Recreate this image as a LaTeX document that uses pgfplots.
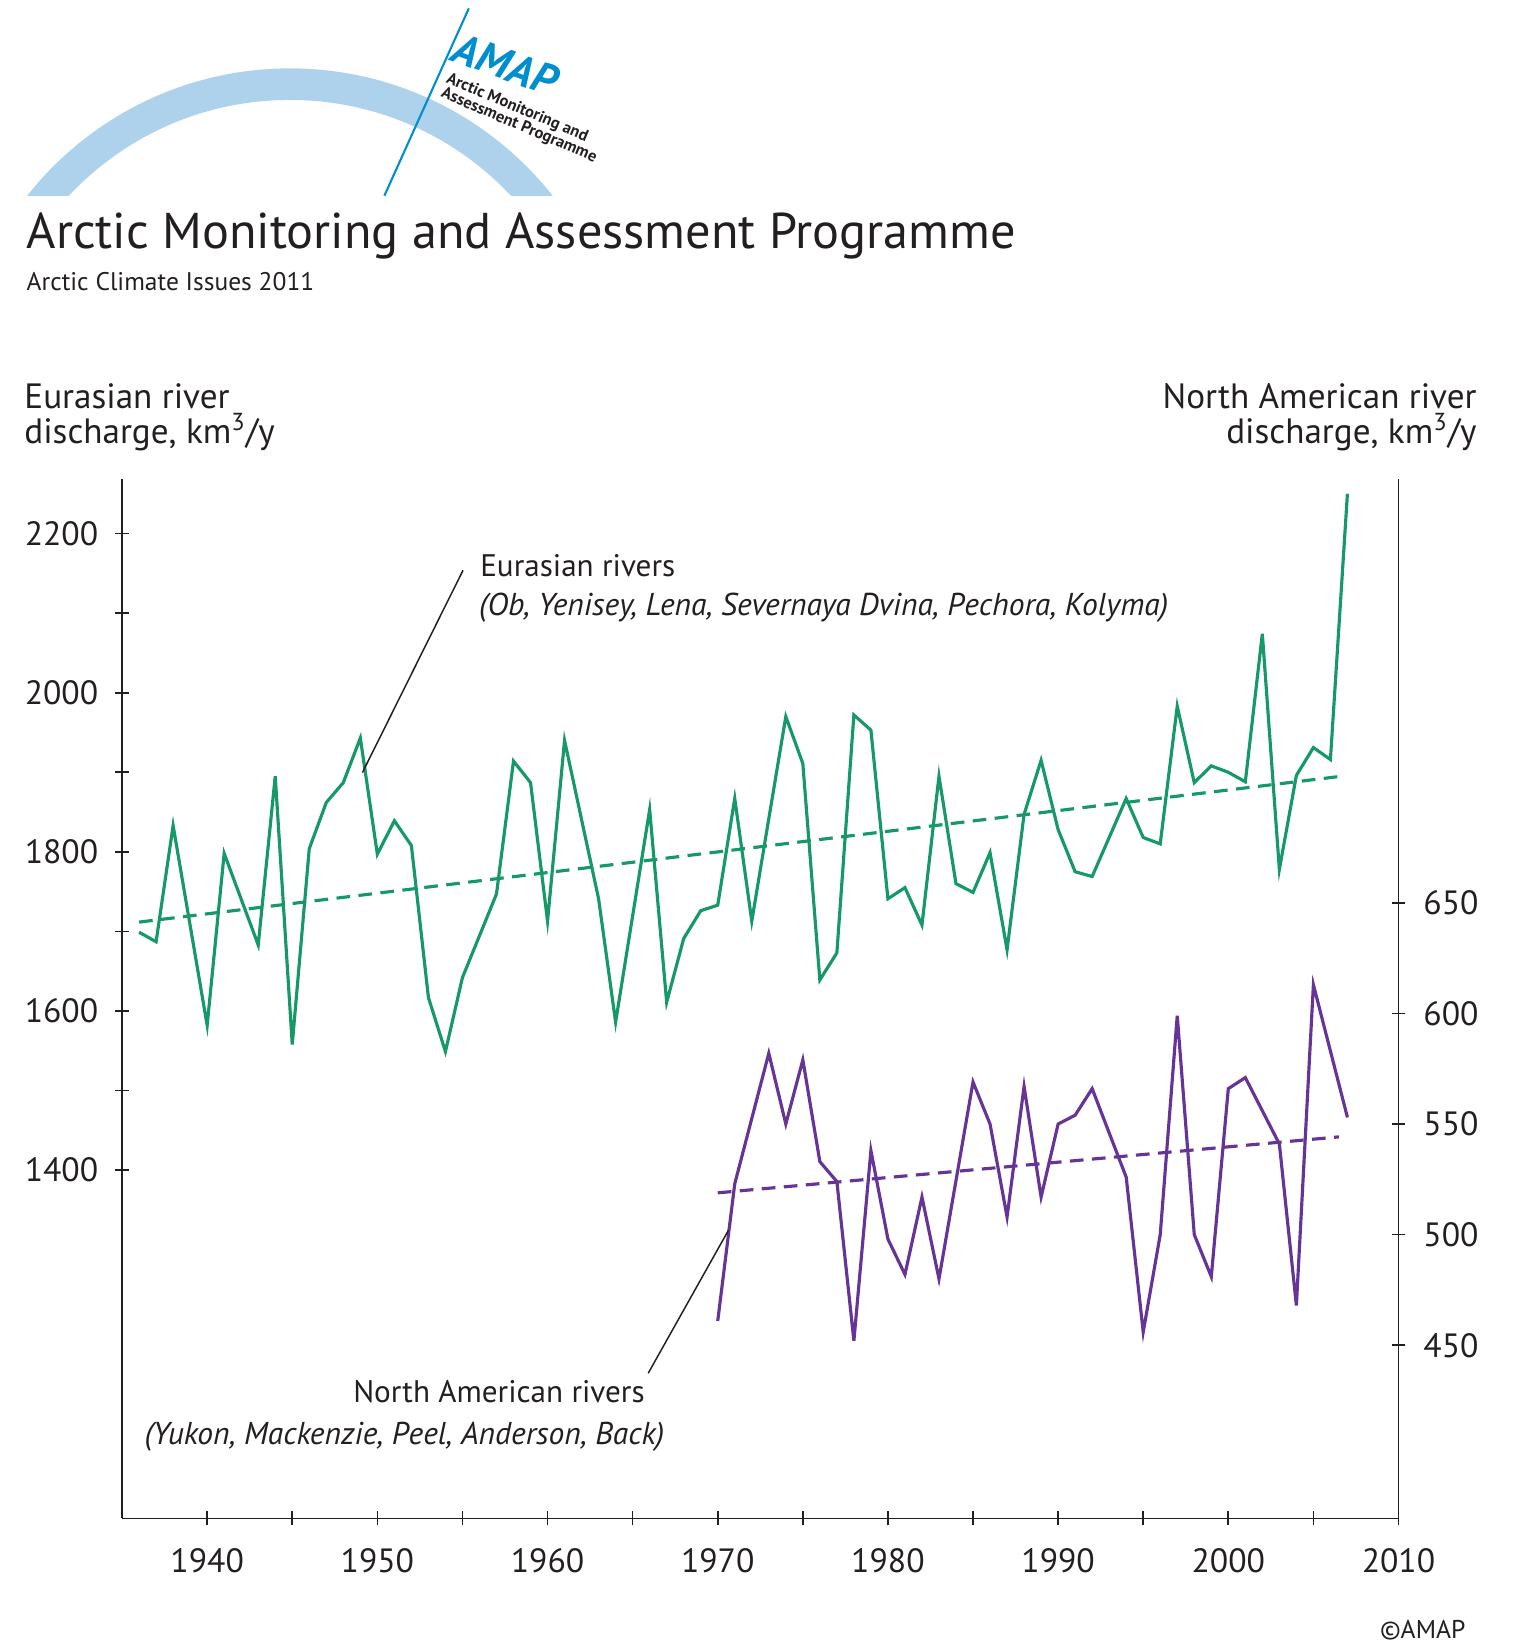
\documentclass[border=0pt]{standalone}
\usepackage{pgfplots}
\pgfplotsset{compat=1.18}
\usepackage{fontspec}
\setmainfont{PT Sans}

\definecolor{ink}{RGB}{35,31,32}
\definecolor{eugreen}{RGB}{22,152,104}
\definecolor{napurple}{RGB}{102,52,150}
\definecolor{arcblue}{RGB}{174,210,236}
\definecolor{amapblue}{RGB}{0,142,207}

% Eurasian rivers, km3/y
\pgfplotstableread{
year q
1936 1699
1937 1687
1938 1833
1940 1582
1941 1798
1943 1683
1944 1895
1945 1558
1946 1804
1947 1862
1948 1887
1949 1943
1950 1797
1951 1839
1952 1808
1953 1617
1954 1549
1955 1642
1957 1747
1958 1914
1959 1887
1960 1713
1961 1940
1963 1741
1964 1586
1966 1853
1967 1611
1968 1691
1969 1726
1970 1733
1971 1867
1972 1713
1974 1970
1975 1911
1976 1639
1977 1673
1978 1972
1979 1953
1980 1741
1981 1755
1982 1708
1983 1895
1984 1760
1985 1749
1986 1799
1987 1677
1988 1847
1989 1915
1990 1828
1991 1775
1992 1769
1994 1867
1995 1818
1996 1810
1997 1983
1998 1887
1999 1908
2000 1900
2001 1888
2002 2074
2003 1778
2004 1896
2005 1931
2006 1916
2007 2250
}\eurasia

% North American rivers, km3/y
\pgfplotstableread{
year q
1970 461
1971 523
1973 582
1974 550
1975 579
1976 533
1977 524
1978 452
1979 538
1980 498
1981 482
1982 517
1983 480
1985 569
1986 550
1987 508
1988 567
1989 517
1990 550
1991 554
1992 566
1994 526
1995 456
1996 500
1997 599
1998 500
1999 481
2000 566
2001 571
2003 541
2004 468
2005 613
2007 553
}\namerica

\pgfplotsset{
  amapaxis/.style={
    at={(58pt,62.5pt)}, anchor=south west,
    scale only axis, width=606.5pt, height=494pt,
    xmin=1935, xmax=2010,
    tick align=outside,
    major tick length=6.65pt, minor tick length=6.65pt,
    tick style={ink, line width=0.8pt},
    ticklabel style={font=\fontsize{16}{16}\selectfont, text=ink},
    /pgf/number format/1000 sep={},
    /pgf/number format/assume math mode=true,
    clip=false,
  },
  plainlines/.style={
    axis line style={-, ink, line width=0.8pt},
    x axis line style={-}, y axis line style={-},
  },
}

\begin{document}
\begin{tikzpicture}[x=0.5pt,y=0.5pt]
\path[use as bounding box] (0,0) rectangle (1439,1568);

% logo
\begin{scope}
  \clip (0,1382) rectangle (700,1568);
  \draw[arcblue, line width=15pt] (275.5,1185) circle[radius=303];
\end{scope}
\draw[amapblue, line width=1pt] (365.3,1382) -- (445.5,1560);
\node[amapblue, rotate=-20, anchor=base west, inner sep=0pt,
  font=\fontsize{20.5}{20.5}\selectfont\bfseries\itshape] at (427,1511) {AMAP};
\node[ink, rotate=-23, anchor=base west, inner sep=0pt,
  font=\fontsize{7.8}{7.8}\selectfont\bfseries] at (423,1490) {Arctic Monitoring and};
\node[ink, rotate=-23, anchor=base west, inner sep=0pt,
  font=\fontsize{7.8}{7.8}\selectfont\bfseries] at (418,1476) {Assessment Programme};

% titles
\node[ink, anchor=base west, inner sep=0pt, font=\fontsize{23.9}{23.9}\selectfont]
  at (25,1332) {Arctic Monitoring and Assessment Programme};
\node[ink, anchor=base west, inner sep=0pt, font=\fontsize{12.1}{12.1}\selectfont]
  at (25,1292) {Arctic Climate Issues 2011};

% left axis
\begin{axis}[amapaxis,
  ymin=962.3, ymax=2268.8,
  axis x line=bottom, axis y line=left, plainlines,
  xtick={1940,1950,...,2010}, minor xtick={1945,1955,...,2005},
  ytick={1400,1600,...,2200}, minor ytick={1500,1700,1900,2100},
  yticklabel style={xshift=-4.5pt},
  xticklabel style={yshift=-7.5pt},
]
  \addplot[eugreen, line width=1.5pt] table[x=year, y=q] {\eurasia};
  \addplot[eugreen, line width=1.5pt, dash pattern=on 6.5pt off 4pt]
    coordinates {(1936,1711.7) (2006.5,1894.6)};
\end{axis}

% right axis
\begin{axis}[amapaxis,
  ymin=371.7, ymax=841.7,
  axis x line=none, axis y line=right, plainlines,
  ytick={450,500,...,650},
  yticklabel style={xshift=5pt},
]
  \addplot[napurple, line width=1.5pt] table[x=year, y=q] {\namerica};
  \addplot[napurple, line width=1.5pt, dash pattern=on 6.5pt off 4pt]
    coordinates {(1970,518.9) (2006.5,544.2)};
\end{axis}

% axis headers
\begin{scope}[every node/.style={ink, inner sep=0pt, font=\fontsize{16.7}{16.7}\selectfont}]
  \node[anchor=base west] at (22.8,1180) {Eurasian river};
  \node[anchor=base west] at (22.8,1146.6) {discharge, km\textsuperscript{3}/y};
  \node[anchor=base east] at (1403.6,1180) {North American river};
  \node[anchor=base east] at (1403.6,1146.6) {discharge, km\textsuperscript{3}/y};
\end{scope}

% annotations
\begin{scope}[every node/.style={ink, inner sep=0pt, font=\fontsize{14.8}{14.8}\selectfont}]
  \node[anchor=base west] at (456,1020) {Eurasian rivers};
  \node[anchor=base west, font=\fontsize{15}{15}\selectfont\itshape] at (455,983)
    {(Ob, Yenisey, Lena, Severnaya Dvina, Pechora, Kolyma)};
  \node[anchor=base east] at (613,235) {North American rivers};
  \node[anchor=base west, font=\fontsize{15}{15}\selectfont\itshape] at (137,195)
    {(Yukon, Mackenzie, Peel, Anderson, Back)};
\end{scope}
\draw[ink, line width=0.7pt] (440,1026) -- (344.4,833.8);
\draw[ink, line width=0.7pt] (616,263) -- (692.3,399);

\node[ink, anchor=base east, inner sep=0pt, font=\fontsize{12.2}{12.2}\selectfont]
  at (1393,11) {©AMAP};
\end{tikzpicture}
\end{document}
